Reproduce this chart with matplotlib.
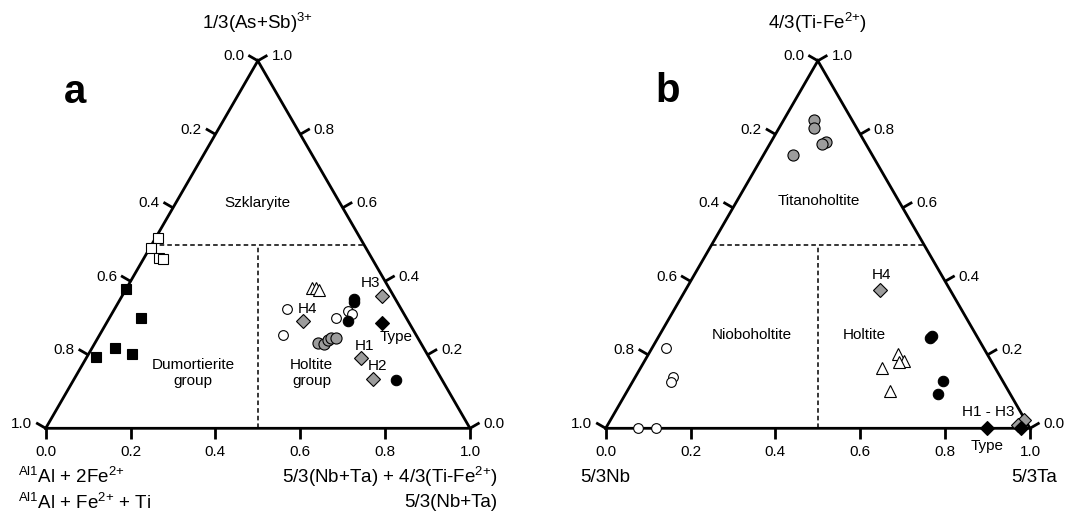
import matplotlib
matplotlib.use('Agg')
import matplotlib.pyplot as plt

plt.rcParams['font.family'] = ['Liberation Sans', 'DejaVu Sans']
plt.rcParams['mathtext.default'] = 'regular'

# ---- data, ternary coords: R = right-corner fraction, T = top-corner fraction ----
# panel a
a_blacksq_R = [0.000, 0.075, 0.054, 0.022, 0.102]
a_blacksq_T = [0.378, 0.300, 0.218, 0.193, 0.201]
a_opensq_R = [0.004, 0.003, 0.035, 0.047]
a_opensq_T = [0.519, 0.491, 0.463, 0.460]
a_tri_R = [0.436, 0.445, 0.455]
a_tri_T = [0.382, 0.382, 0.377]
a_opencirc_R = [0.406, 0.433, 0.534, 0.552, 0.568]
a_opencirc_T = [0.324, 0.254, 0.301, 0.320, 0.310]
a_blackcirc_R = [0.550, 0.556, 0.567, 0.759]
a_blackcirc_T = [0.351, 0.343, 0.292, 0.132]
a_greycirc_R = [0.526, 0.540, 0.545, 0.551, 0.561]
a_greycirc_T = [0.232, 0.230, 0.239, 0.245, 0.246]
a_greydia_R = [0.462, 0.613, 0.648, 0.705]   # H4, H3, H1, H2
a_greydia_T = [0.291, 0.360, 0.191, 0.133]
a_type_R = [0.649]
a_type_T = [0.287]

# panel b
b_greycirc_R = [0.070, 0.082, 0.129, 0.123, 0.069]
b_greycirc_T = [0.840, 0.817, 0.779, 0.774, 0.743]
b_opencirc_R = [0.032, 0.089, 0.092, 0.077, 0.118]
b_opencirc_T = [0.219, 0.140, 0.126, 0.000, 0.000]
b_greydia_R = [0.459, 0.974, 0.968]          # H4, H1-H3
b_greydia_T = [0.377, 0.022, 0.008]
b_blackcirc_R = [0.641, 0.643, 0.730, 0.736]
b_blackcirc_T = [0.247, 0.251, 0.128, 0.093]
b_tri_R = [0.589, 0.611, 0.601, 0.570, 0.620]
b_tri_T = [0.202, 0.184, 0.180, 0.163, 0.102]
b_blackdia_R = [0.899, 0.977]
b_blackdia_T = [0.000, 0.002]

tick_values = [0.0, 0.2, 0.4, 0.6, 0.8, 1.0]

W, H = 1070, 513
SIDE, TRI_H, BASE_Y = 424.3, 367.5, 428.3
FS = 11
kx, ky = 1 / SIDE, 1 / TRI_H


def tern(R, T):
    return [r + t / 2 for r, t in zip(R, T)], list(T)


def make_axes(left_px):
    ax = fig.add_axes([left_px / W, (H - BASE_Y) / H, SIDE / W, TRI_H / H])
    ax.set_xlim(0, 1)
    ax.set_ylim(0, 1)
    ax.axis('off')
    return ax


def draw_frame(ax):
    ax.plot([0, 1, 0.5, 0], [0, 0, 1, 0], color='black', lw=2,
            solid_joinstyle='miter', clip_on=False, zorder=2)
    dash = dict(color='black', lw=1.1, ls=(0, (3, 2)), clip_on=False, zorder=1)
    ax.plot([0.25, 0.75], [0.5, 0.5], **dash)
    ax.plot([0.5, 0.5], [0, 0.5], **dash)

    tl = 11
    tick = dict(color='black', lw=2, clip_on=False, solid_capstyle='butt', zorder=2)
    for v in tick_values:
        lab = f'{v:.1f}'
        # bottom axis
        ax.plot([v, v], [0, -tl * ky], **tick)
        ax.text(v, -23.5 * ky, lab, ha='center', va='center', fontsize=FS)
        # left side (0 at apex)
        t = 1 - v
        x0, y0 = t / 2, t
        dx, dy = -0.866 * tl, 0.5 * tl
        ax.plot([x0, x0 + dx * kx], [y0, y0 + dy * ky], **tick)
        ax.text(x0 + (dx - 4) * kx, y0 + (dy - 1) * ky, lab,
                ha='right', va='center', fontsize=FS)
        # right side (1 at apex)
        x0, y0 = 1 - v / 2, v
        dx = 0.866 * tl
        ax.plot([x0, x0 + dx * kx], [y0, y0 + dy * ky], **tick)
        ax.text(x0 + (dx + 4) * kx, y0 + (dy - 1) * ky, lab,
                ha='left', va='center', fontsize=FS)


def pts(ax, R, T, marker, face, ms, edge='black'):
    x, y = tern(R, T)
    ax.plot(x, y, ls='none', marker=marker, ms=ms, mfc=face, mec=edge,
            mew=0.8, clip_on=False, zorder=3)


fig = plt.figure(figsize=(W / 100, H / 100), dpi=100)
grey = '#9c9c9c'

# ---------------- panel a ----------------
ax = make_axes(45.7)
draw_frame(ax)
pts(ax, a_opensq_R, a_opensq_T, 's', 'white', 7.5)
pts(ax, a_blacksq_R, a_blacksq_T, 's', 'black', 7)
pts(ax, a_tri_R, a_tri_T, '^', 'white', 8)
pts(ax, a_opencirc_R, a_opencirc_T, 'o', 'white', 7)
pts(ax, a_greycirc_R, a_greycirc_T, 'o', grey, 8)
pts(ax, a_blackcirc_R, a_blackcirc_T, 'o', 'black', 7.5)
pts(ax, a_greydia_R, a_greydia_T, 'D', grey, 7)
pts(ax, a_type_R, a_type_T, 'D', 'black', 7)

ax.text(0.5, 1.104, '1/3(As+Sb)$^{3{+}}$', ha='center', va='center', fontsize=13.5)
ax.text(0.042, 0.885, 'a', ha='left', va='baseline', fontsize=29, fontweight='bold')
ax.text(0.5, 0.613, 'Szklaryite', ha='center', va='center', fontsize=FS)
ax.text(0.347, 0.150, 'Dumortierite\ngroup', ha='center', va='center',
        fontsize=FS, linespacing=1.15)
ax.text(0.627, 0.150, 'Holtite\ngroup', ha='center', va='center',
        fontsize=FS, linespacing=1.15)
ax.text(0.766, 0.395, 'H3', ha='center', va='center', fontsize=FS)
ax.text(0.618, 0.325, 'H4', ha='center', va='center', fontsize=FS)
ax.text(0.827, 0.249, 'Type', ha='center', va='center', fontsize=FS)
ax.text(0.752, 0.224, 'H1', ha='center', va='center', fontsize=FS)
ax.text(0.782, 0.170, 'H2', ha='center', va='center', fontsize=FS)

ax.text(-0.0646, -0.1325, '$^{Al1}$Al + 2Fe$^{2{+}}$', ha='left', va='center', fontsize=13.5)
ax.text(-0.0646, -0.203, '$^{Al1}$Al + Fe$^{2{+}}$ + Ti', ha='left', va='center', fontsize=13.5)
ax.text(1.066, -0.1325, '5/3(Nb+Ta) + 4/3(Ti-Fe$^{2{+}}$)', ha='right', va='center', fontsize=13.5)
ax.text(1.064, -0.203, '5/3(Nb+Ta)', ha='right', va='center', fontsize=13.5)

# ---------------- panel b ----------------
ax = make_axes(605.7)
draw_frame(ax)
pts(ax, b_greycirc_R, b_greycirc_T, 'o', grey, 8)
pts(ax, b_opencirc_R, b_opencirc_T, 'o', 'white', 7)
pts(ax, b_tri_R, b_tri_T, '^', 'white', 8)
pts(ax, b_blackcirc_R, b_blackcirc_T, 'o', 'black', 7.5)
pts(ax, b_greydia_R, b_greydia_T, 'D', grey, 7)
pts(ax, b_blackdia_R, b_blackdia_T, 'D', 'black', 7)

ax.text(0.5, 1.104, '4/3(Ti-Fe$^{2{+}}$)', ha='center', va='center', fontsize=13.5)
ax.text(0.116, 0.888, 'b', ha='left', va='baseline', fontsize=29, fontweight='bold')
ax.text(0.502, 0.618, 'Titanoholtite', ha='center', va='center', fontsize=FS)
ax.text(0.345, 0.253, 'Nioboholtite', ha='center', va='center', fontsize=FS)
ax.text(0.609, 0.253, 'Holtite', ha='center', va='center', fontsize=FS)
ax.text(0.651, 0.416, 'H4', ha='center', va='center', fontsize=FS)
ax.text(0.902, 0.045, 'H1 - H3', ha='center', va='center', fontsize=FS)
ax.text(0.899, -0.047, 'Type', ha='center', va='center', fontsize=FS)
ax.text(-0.002, -0.135, '5/3Nb', ha='center', va='center', fontsize=13.5)
ax.text(1.01, -0.135, '5/3Ta', ha='center', va='center', fontsize=13.5)

fig.savefig('out.png', dpi=100, facecolor='white')
